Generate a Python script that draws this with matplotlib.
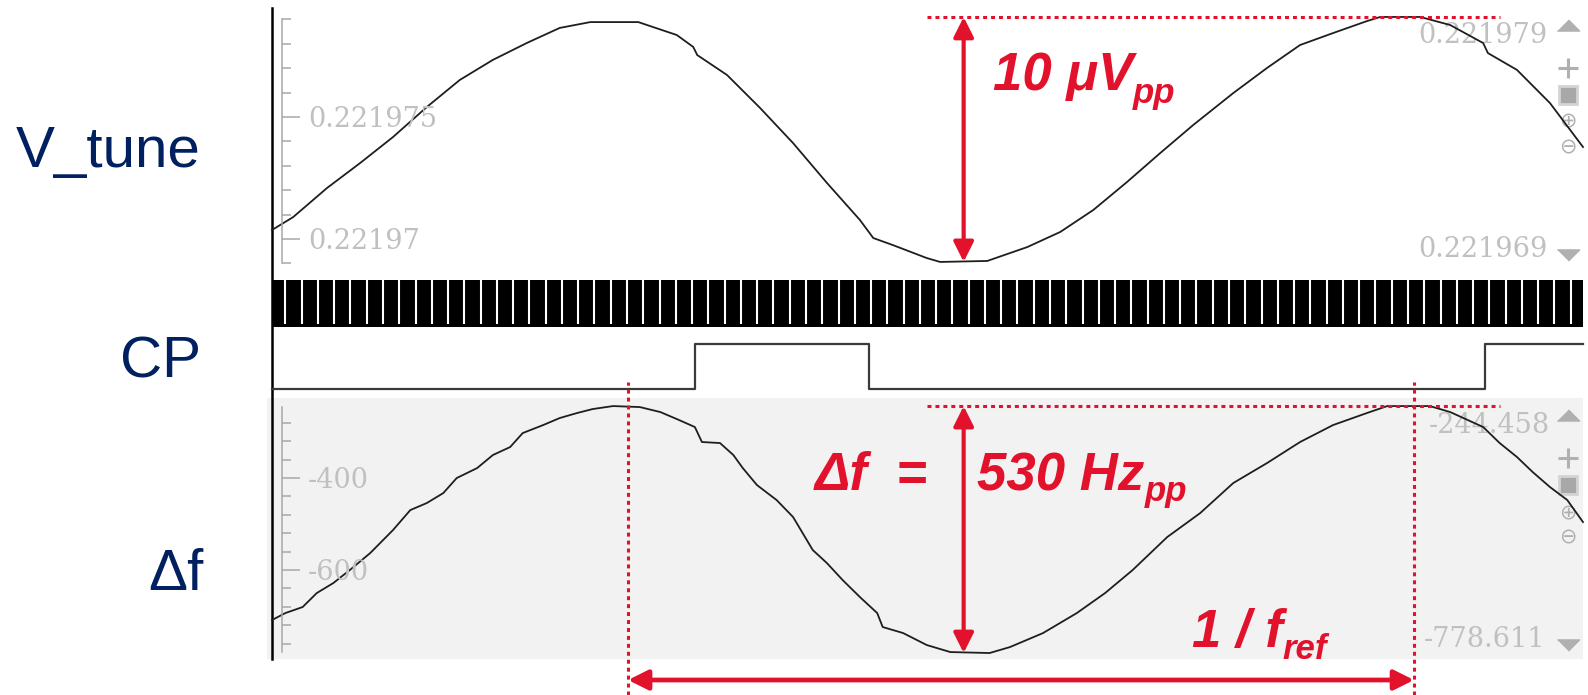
import numpy as np
import matplotlib
matplotlib.use("Agg")
from matplotlib import pyplot as plt
from matplotlib import transforms
from matplotlib.patches import Rectangle
from matplotlib.ticker import FixedLocator, MultipleLocator

W, H = 1588, 695

# time in units of the reference period (t / T_ref)
t_end = 1.668

# V_tune trace (V)
t_vtune = [0.000, 0.027, 0.070, 0.112, 0.154, 0.197, 0.239, 0.281, 0.324, 0.366,
           0.405, 0.466, 0.515, 0.536, 0.541, 0.579, 0.621, 0.663, 0.706, 0.748,
           0.765, 0.790, 0.833, 0.850, 0.910, 0.961, 1.003, 1.045, 1.088, 1.130,
           1.172, 1.223, 1.266, 1.308, 1.350, 1.393, 1.410, 1.461, 1.499, 1.541,
           1.547, 1.584, 1.626, 1.668]
v_tune = [0.22197037, 0.22197090, 0.22197209, 0.22197311, 0.22197418, 0.22197541,
          0.22197652, 0.22197734, 0.22197803, 0.22197865, 0.22197889, 0.22197889,
          0.22197836, 0.22197787, 0.22197754, 0.22197672, 0.22197537, 0.22197393,
          0.22197230, 0.22197078, 0.22197004, 0.22196975, 0.22196922, 0.22196906,
          0.22196910, 0.22196967, 0.22197029, 0.22197119, 0.22197234, 0.22197352,
          0.22197467, 0.22197598, 0.22197701, 0.22197795, 0.22197844, 0.22197893,
          0.22197910, 0.22197910, 0.22197877, 0.22197803, 0.22197762, 0.22197693,
          0.22197557, 0.22197377]

# frequency deviation trace (Hz)
t_df = [0.000, 0.017, 0.039, 0.057, 0.078, 0.099, 0.125, 0.154, 0.176, 0.197,
        0.218, 0.235, 0.261, 0.281, 0.303, 0.319, 0.345, 0.366, 0.388, 0.408,
        0.434, 0.468, 0.494, 0.515, 0.538, 0.547, 0.570, 0.587, 0.599, 0.617,
        0.642, 0.663, 0.688, 0.706, 0.726, 0.748, 0.770, 0.777, 0.803, 0.833,
        0.863, 0.913, 0.939, 0.981, 1.024, 1.060, 1.095, 1.139, 1.181, 1.223,
        1.266, 1.308, 1.350, 1.393, 1.419, 1.473, 1.499, 1.541, 1.562, 1.584,
        1.604, 1.626, 1.648, 1.668]
df_hz = [-708.7, -693.5, -680.4, -650.0, -628.3, -600.0, -563.0, -513.0, -469.6, -454.3,
         -432.6, -400.0, -378.3, -350.0, -332.6, -302.2, -284.8, -269.6, -258.7, -250.0,
         -243.5, -245.7, -256.5, -271.7, -289.1, -321.7, -323.9, -350.0, -378.3, -415.2,
         -447.8, -484.8, -556.5, -584.8, -621.7, -658.7, -693.5, -723.9, -737.0, -763.0,
         -778.3, -780.4, -767.4, -737.0, -693.5, -650.0, -600.0, -528.3, -476.1, -410.9,
         -367.4, -321.7, -284.8, -258.7, -243.5, -243.5, -256.5, -289.1, -323.9, -354.3,
         -387.0, -419.6, -447.8, -495.7]

# charge pump output: edge times and levels
cp_t = [0.0, 0.538, 0.760, 1.543, 1.668]
cp_level = [0, 1, 0, 1, 1]

# fast clock: period and time of the first low pulse
clk_period = 0.0207
clk_first_low = 0.017

# axis ranges / labels as shown by the scope view
vt_lim = (0.221969, 0.221979)
vt_major = [0.22197, 0.221975]
vt_major_labels = ["0.22197", "0.221975"]
df_lim = (-778.611, -244.458)
df_major = [-600, -400]
df_major_labels = ["-600", "-400"]

t_period_marks = [0.453, 1.453]
t_pp_arrow = 0.88
t_hline = [0.833, 1.562]

red = "#e3122c"
navy = "#002060"
grey = "#b0b0b0"
dot = (0, (1.3, 1.3))

fig = plt.figure(figsize=(W / 100, H / 100), dpi=100)


def px_axes(x0, y0, x1, y1):
    return fig.add_axes([x0 / W, 1 - y1 / H, (x1 - x0) / W, (y1 - y0) / H])


# overlay in pixel coordinates for the window chrome
ov = px_axes(0, 0, W, H)
ov.set_xlim(0, W)
ov.set_ylim(H, 0)
ov.axis("off")
ov.add_patch(Rectangle((267, 398), 1316, 261, color="#f2f2f2", lw=0))
ov.plot([272, 272], [8, 659], color="black", lw=1.8)

serif = dict(family="DejaVu Serif", fontsize=19.5, color="#c0c0c0")
ov.text(1548, 43, "0.221979", ha="right", va="baseline", **serif)
ov.text(1548, 257, "0.221969", ha="right", va="baseline", **serif)
ov.text(1550, 433, "-244.458", ha="right", va="baseline", **serif)
ov.text(1545, 647, "-778.611", ha="right", va="baseline", **serif)

tri_up = [(-1, -0.5), (1, -0.5), (0, 0.5)]
tri_dn = [(-1, 0.5), (1, 0.5), (0, -0.5)]
for yu, yd, yc, ys, yzi, yzo in [(25, 255, 68, 95, 120, 147),
                                 (415, 645, 458, 485, 512, 537)]:
    ov.plot(1568, yu, marker=tri_up, ms=16, color=grey, ls="none")
    ov.plot(1568, yd, marker=tri_dn, ms=16, color=grey, ls="none")
    ov.plot(1568, yc, marker="+", ms=15, mew=2.2, color=grey, ls="none")
    ov.plot(1568, ys, marker="s", ms=13, mfc="#a8a8a8", mec="#d4d4d4", mew=2, ls="none")
    ov.text(1568, yzi, "\u2295", ha="center", va="center", fontsize=15, color=grey)
    ov.text(1568, yzo, "\u2296", ha="center", va="center", fontsize=15, color=grey)

name_kw = dict(family="Liberation Sans", fontsize=42, color=navy, ha="right", va="baseline")
ov.text(201, 167, "V_tune", **name_kw)
ov.text(201, 378, "CP", **name_kw)
ov.text(203, 590, "\u0394f", **name_kw)


def scope_axis(ax, ylim, major, labels, minor_step):
    ax.set_xlim(0, t_end)
    ax.set_ylim(*ylim)
    ax.set_facecolor("none")
    for s in ["top", "right", "bottom"]:
        ax.spines[s].set_visible(False)
    ax.spines["left"].set_position(("axes", 10 / 1311))
    ax.spines["left"].set_color("#a8a8a8")
    ax.spines["left"].set_linewidth(1.1)
    ax.set_xticks([])
    ax.yaxis.set_major_locator(FixedLocator(major))
    ax.yaxis.set_minor_locator(MultipleLocator(minor_step))
    ax.tick_params(axis="y", which="both", direction="in", color="#a8a8a8",
                   width=1.1, labelleft=False)
    ax.tick_params(axis="y", which="major", length=13)
    ax.tick_params(axis="y", which="minor", length=6.5)
    for v, s in zip(major, labels):
        ax.annotate(s, xy=(0, v), xycoords=ax.get_yaxis_transform(),
                    xytext=(36, -10), textcoords="offset pixels",
                    ha="left", va="baseline", **serif)


# V_tune panel
ax_v = px_axes(272, 19.4, 1583, 263.4)
scope_axis(ax_v, vt_lim, vt_major, vt_major_labels, 1e-6)
ax_v.plot(t_vtune, v_tune, color="#1e1e1e", lw=1.3, clip_on=False)

# clock and charge pump
ax_clk = px_axes(272, 280, 1583, 327)
ax_clk.set_xlim(0, t_end)
ax_clk.set_ylim(0, 1)
ax_clk.axis("off")
ax_clk.fill_between([0, t_end], 0, 1, color="black", lw=0)
gaps = np.arange(clk_first_low, t_end, clk_period)
ax_clk.vlines(gaps, 0.06, 1.0, colors="white", lw=1.5)

ax_cp = px_axes(272, 344, 1583, 389)
ax_cp.set_xlim(0, t_end)
ax_cp.set_ylim(0, 1)
ax_cp.axis("off")
ax_cp.step(cp_t, cp_level, where="post", color="#3a3a3a", lw=1.6, clip_on=False)

# delta f panel
ax_f = px_axes(272, 406.5, 1583, 652.2)
scope_axis(ax_f, df_lim, df_major, df_major_labels, 40)
ax_f.plot(t_df, df_hz, color="#1e1e1e", lw=1.3, clip_on=False)

# red annotations
arrow_kw = dict(arrowstyle="<|-|>,head_length=12,head_width=6", color=red, lw=3,
                mutation_scale=1, shrinkA=0, shrinkB=0)
main_kw = dict(color=red, fontsize=38, fontweight="bold", fontstyle="italic",
               family="Liberation Sans")
sub_kw = dict(main_kw, fontsize=25)


def label_with_sub(ax, x, y, main, sub, drop):
    t = ax.text(x, y, main, ha="left", va="baseline", **main_kw)
    ax.annotate(sub, xy=(1, y), xycoords=(t, "data"), xytext=(0, -drop),
                textcoords="offset pixels", ha="left", va="baseline", **sub_kw)


vmax, vmin = max(v_tune), min(v_tune)
ax_v.plot(t_hline, [vmax, vmax], color=red, lw=2.2, ls=dot, clip_on=False)
ax_v.annotate("", xy=(t_pp_arrow, vmax), xytext=(t_pp_arrow, vmin),
              arrowprops=arrow_kw, annotation_clip=False)
label_with_sub(ax_v, 0.917, 0.22197611, "10 \u03bcV", "pp", 13)

fmax, fmin = max(df_hz), min(df_hz)
ax_f.plot(t_hline, [fmax, fmax], color=red, lw=2.2, ls=dot, clip_on=False)
ax_f.annotate("", xy=(t_pp_arrow, fmax), xytext=(t_pp_arrow, fmin),
              arrowprops=arrow_kw, annotation_clip=False)
ax_f.text(0.691, -426.1, "\u0394f  =", ha="left", va="baseline", **main_kw)
label_with_sub(ax_f, 0.897, -426.1, "530 Hz", "pp", 11)
label_with_sub(ax_f, 1.170, -767.4, "1 / f", "ref", 12)

trans = transforms.blended_transform_factory(ax_f.transData, fig.transFigure)
for tm in t_period_marks:
    ax_f.plot([tm, tm], [0, (H - 382) / H], transform=trans, color=red, lw=2.2,
              ls=dot, clip_on=False)
ax_f.annotate("", xy=(t_period_marks[1], 15 / H), xytext=(t_period_marks[0], 15 / H),
              xycoords=("data", "figure fraction"), textcoords=("data", "figure fraction"),
              arrowprops=dict(arrow_kw, lw=3.4), annotation_clip=False)

fig.savefig("out.png", dpi=100)
